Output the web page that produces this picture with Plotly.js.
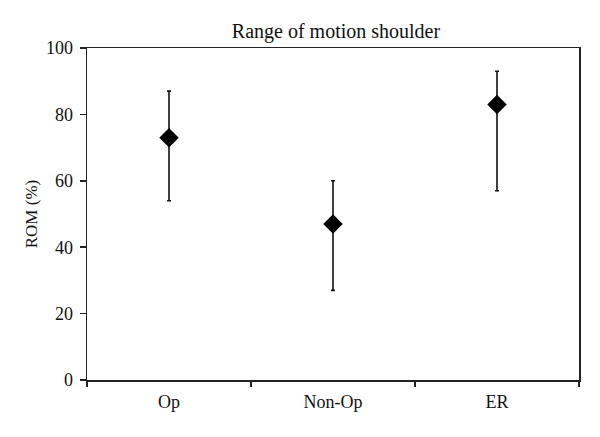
<!DOCTYPE html>
<html>
<head>
<meta charset="utf-8">
<script src="https://cdn.plot.ly/plotly-3.0.1.min.js"></script>
<style>
  body { margin: 0; background: #fff; }
  #plot { width: 600px; height: 437px; }
</style>
</head>
<body>
<div id="plot"></div>
<script>
// Groups and ROM values (%)
let groups = ["Op", "Non-Op", "ER"]
let rom = [73, 47, 83]
let romHigh = [87, 60, 93]
let romLow = [54, 27, 57]

// Error bar lengths above and below each point
let errUp = []
let errDown = []
for (let i = 0; i < rom.length; i++) {
  errUp.push(romHigh[i] - rom[i]);
  errDown.push(rom[i] - romLow[i]);
}

let trace1 = {
  x: groups,
  y: rom,
  type: "scatter",
  mode: "markers",
  marker: { symbol: "diamond", size: 15, color: "#000" },
  error_y: {
    type: "data",
    symmetric: false,
    array: errUp,
    arrayminus: errDown,
    color: "#111",
    thickness: 1.6,
    width: 2
  },
  hoverinfo: "none"
};

let serif = "Liberation Serif, Times New Roman, serif";

let layout = {
  width: 600,
  height: 437,
  showlegend: false,
  paper_bgcolor: "#fff",
  plot_bgcolor: "#fff",
  font: { family: serif, size: 18, color: "#111" },
  title: {
    text: "Range of motion shoulder",
    font: { family: serif, size: 20, color: "#111" },
    x: 0.56,
    xanchor: "center",
    y: 0.93,
    yanchor: "middle"
  },
  margin: { l: 87, r: 21, t: 48, b: 57 },
  xaxis: {
    type: "category",
    range: [-0.5, 2.5],
    showline: true,
    mirror: true,
    linecolor: "#222",
    linewidth: 1.5,
    showgrid: false,
    zeroline: false,
    ticks: "outside",
    tickson: "boundaries",
    ticklen: 5,
    tickwidth: 1.5,
    tickcolor: "#222",
    ticklabelstandoff: 5,
    tickfont: { family: serif, size: 18, color: "#111" }
  },
  yaxis: {
    range: [0, 100],
    dtick: 20,
    showline: true,
    mirror: true,
    linecolor: "#222",
    linewidth: 1.5,
    showgrid: false,
    zeroline: false,
    ticks: "outside",
    ticklen: 6,
    tickwidth: 1.5,
    tickcolor: "#222",
    ticklabelstandoff: 3,
    tickfont: { family: serif, size: 18, color: "#111" },
    title: {
      text: "ROM (%)",
      font: { family: serif, size: 17, color: "#111" },
      standoff: 4
    }
  }
};

Plotly.newPlot("plot", [trace1], layout, { displayModeBar: false, staticPlot: true });
</script>
</body>
</html>
